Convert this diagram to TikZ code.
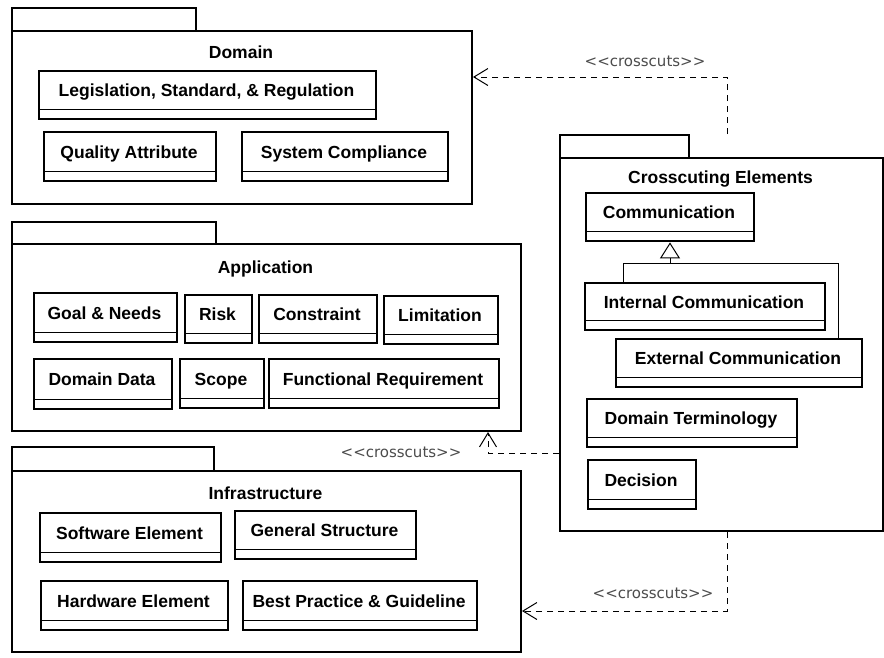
\documentclass[tikz,border=0pt]{standalone}
\usepackage{fontspec}
\setmainfont{Liberation Sans}
\newfontfamily\stereofont{DejaVu Sans}
\usetikzlibrary{arrows.meta}

\tikzset{
  pkg/.style={draw, line width=2pt, anchor=north west, inner sep=0pt},
  cls/.style={draw, line width=2.4pt, anchor=north west, inner sep=0pt},
  ttl/.style={font=\fontsize{17.5}{20}\selectfont\bfseries, inner sep=0pt, anchor=base},
  stereo/.style={font=\stereofont\fontsize{15}{17}\selectfont, text=black!70, inner sep=0pt},
  dep/.style={dash pattern=on 6pt off 5pt, line width=1pt,
    -{Straight Barb[length=14pt,width=17pt]}},
  genline/.style={line width=1pt},
  gentip/.style={line width=1pt, -{Triangle[open,length=16pt,width=20pt]}},
  divline/.style={line width=1pt}
}

\newcommand\clsbox[6]{%
  \node[cls, minimum width={#4pt-#2pt}, minimum height={#5pt-#3pt}] (#1) at (#2,#3) {};
  \draw[divline] ([yshift=11pt]#1.south west) -- ([yshift=11pt]#1.south east);
  \node[ttl] (#1-t) at ({(#2+#4)/2},{(#3+#5-11)/2+8}) {#6};
}
\newcommand\pkgbox[9]{%
  \node[pkg, minimum width={#4pt-#2pt}, minimum height={#5pt-#3pt}] (#1-tab) at (#2,#3) {};
  \node[pkg, minimum width={#6pt-#2pt}, minimum height={#7pt-#5pt}] (#1) at (#2,#5) {};
  \node[ttl] (#1-t) at ({(#2+#6)/2},{#9+6.5}) {#8};
}

\begin{document}
\begin{tikzpicture}[x=1pt,y=-1pt]
\useasboundingbox[fill=white] (0,0) rectangle (884,657);

% packages
\pkgbox{domain}{11}{7}{195}{30}{471}{203}{Domain}{52}
\pkgbox{app}{11}{221}{215}{243}{520}{430}{Application}{267}
\pkgbox{infra}{11}{446}{213}{470}{520}{651}{Infrastructure}{493}
\pkgbox{cross}{559}{134}{688}{157}{882}{530}{Crosscuting Elements}{177}

% Domain classes
\clsbox{leg}{38}{70}{375}{118}{Legislation, Standard, \& Regulation}
\clsbox{qa}{43}{131}{215}{180}{Quality Attribute}
\clsbox{sc}{241}{131}{447}{180}{System Compliance}

% Application classes
\clsbox{goal}{33}{292}{176}{341}{Goal \& Needs}
\clsbox{risk}{184}{294}{251}{342}{Risk}
\clsbox{cons}{258}{294}{376}{342}{Constraint}
\clsbox{lim}{383}{295}{497}{343}{Limitation}
\clsbox{dd}{33}{358}{171}{408}{Domain Data}
\clsbox{scope}{179}{358}{263}{407}{Scope}
\clsbox{fr}{268}{358}{498}{407}{Functional Requirement}

% Infrastructure classes
\clsbox{sw}{39}{512}{220}{561}{Software Element}
\clsbox{gs}{234}{510}{415}{558}{General Structure}
\clsbox{hw}{40}{580}{227}{629}{Hardware Element}
\clsbox{bp}{242}{580}{476}{629}{Best Practice \& Guideline}

% Crosscuting classes
\clsbox{comm}{585}{192}{753}{240}{Communication}
\clsbox{intc}{584}{282}{824}{329}{Internal Communication}
\clsbox{extc}{615}{338}{861}{386}{External Communication}
\clsbox{dt}{586}{398}{796}{446}{Domain Terminology}
\clsbox{dec}{587}{459}{695}{508}{Decision}

% generalization
\coordinate (g) at (670,263);
\coordinate (gl) at (623,263);
\coordinate (gr) at (838,263);
\draw[genline] (intc.north -| gl) -- (gl) -- (gr) -- (extc.north -| gr);
\draw[gentip] (g) -- (comm.south -| g);

% crosscuts dependencies
\coordinate (crosstop) at (727,134);
\coordinate (c1) at (727,77);
\draw[dep] (crosstop) -- (c1) -- (domain.east |- c1);
\node[stereo] (l1) at (645,61) {<<crosscuts>>};

\coordinate (c2) at (488,453);
\draw[dep] (cross.west |- c2) -- (c2) -- (app.south -| c2);
\node[stereo] (l2) at (401,452) {<<crosscuts>>};

\coordinate (c3) at (727,611);
\draw[dep] (cross.south -| c3) -- (c3) -- (infra.east |- c3);
\node[stereo] (l3) at (653,593) {<<crosscuts>>};
\end{tikzpicture}
\end{document}
